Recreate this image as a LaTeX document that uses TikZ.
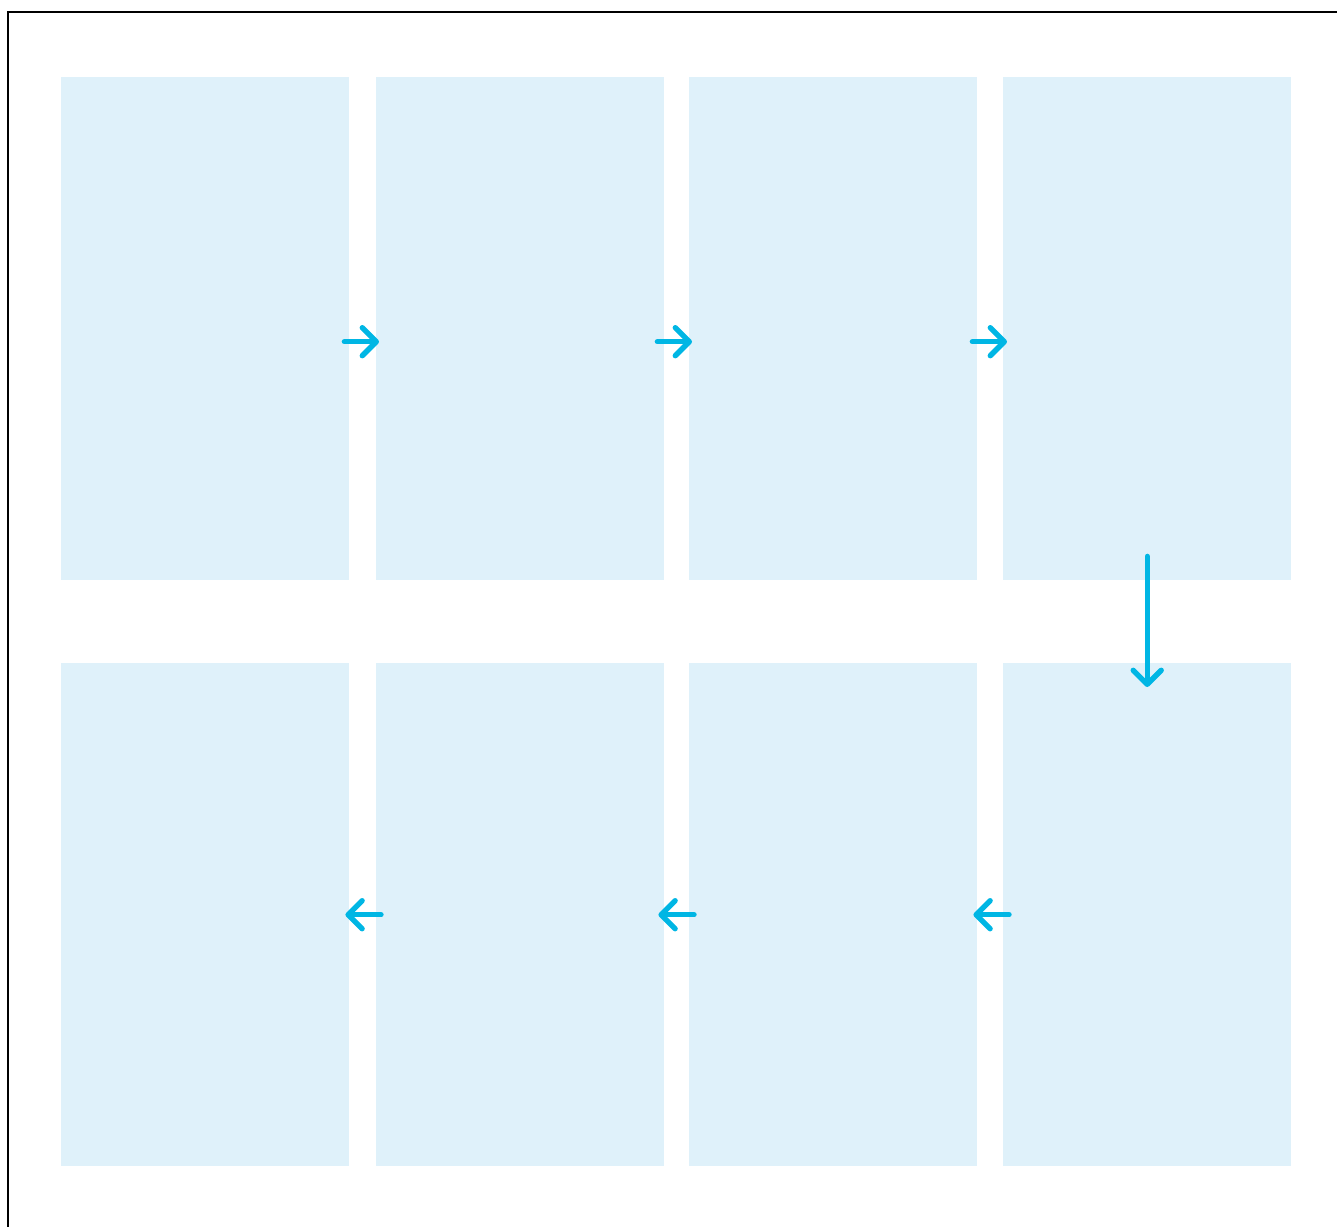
\documentclass[tikz,border=0pt]{standalone}
\usetikzlibrary{arrows.meta}
\definecolor{panel}{HTML}{DFF1FA}
\definecolor{flow}{HTML}{00B6E4}
\begin{document}
\begin{tikzpicture}[x=1pt,y=-1pt,
  panelbox/.style={fill=panel,draw=none,minimum width=288pt,minimum height=503pt,inner sep=0pt,anchor=north west},
  flowarrow/.style={draw=flow,line width=5.4pt,line cap=round,line join=round,-{Straight Barb[length=14pt,width=28pt,line cap=round,line join=round]}}]
\useasboundingbox (0,0) rectangle (1337,1226);
\draw[line width=1.6pt] (8,1230) -- (8,12) -- (1340,12);
\node[panelbox] (r1) at (61,77) {};
\node[panelbox] (r2) at (376,77) {};
\node[panelbox] (r3) at (689,77) {};
\node[panelbox] (r4) at (1003,77) {};
\node[panelbox] (r8) at (1003,663) {};
\node[panelbox] (r7) at (689,663) {};
\node[panelbox] (r6) at (376,663) {};
\node[panelbox] (r5) at (61,663) {};
\draw[flowarrow] ([xshift=-5pt,yshift=-13pt]r1.east) -- ([xshift=3pt,yshift=-13pt]r2.west);
\draw[flowarrow] ([xshift=-7pt,yshift=-13pt]r2.east) -- ([xshift=3pt,yshift=-13pt]r3.west);
\draw[flowarrow] ([xshift=-5pt,yshift=-13pt]r3.east) -- ([xshift=4pt,yshift=-13pt]r4.west);
\draw[flowarrow] ([yshift=24pt]r4.south) -- ([yshift=-24pt]r8.north);
\draw[flowarrow] ([xshift=6pt]r8.west) -- ([xshift=-4pt]r7.east);
\draw[flowarrow] ([xshift=5pt]r7.west) -- ([xshift=-6pt]r6.east);
\draw[flowarrow] ([xshift=5pt]r6.west) -- ([xshift=-4pt]r5.east);
\end{tikzpicture}
\end{document}
